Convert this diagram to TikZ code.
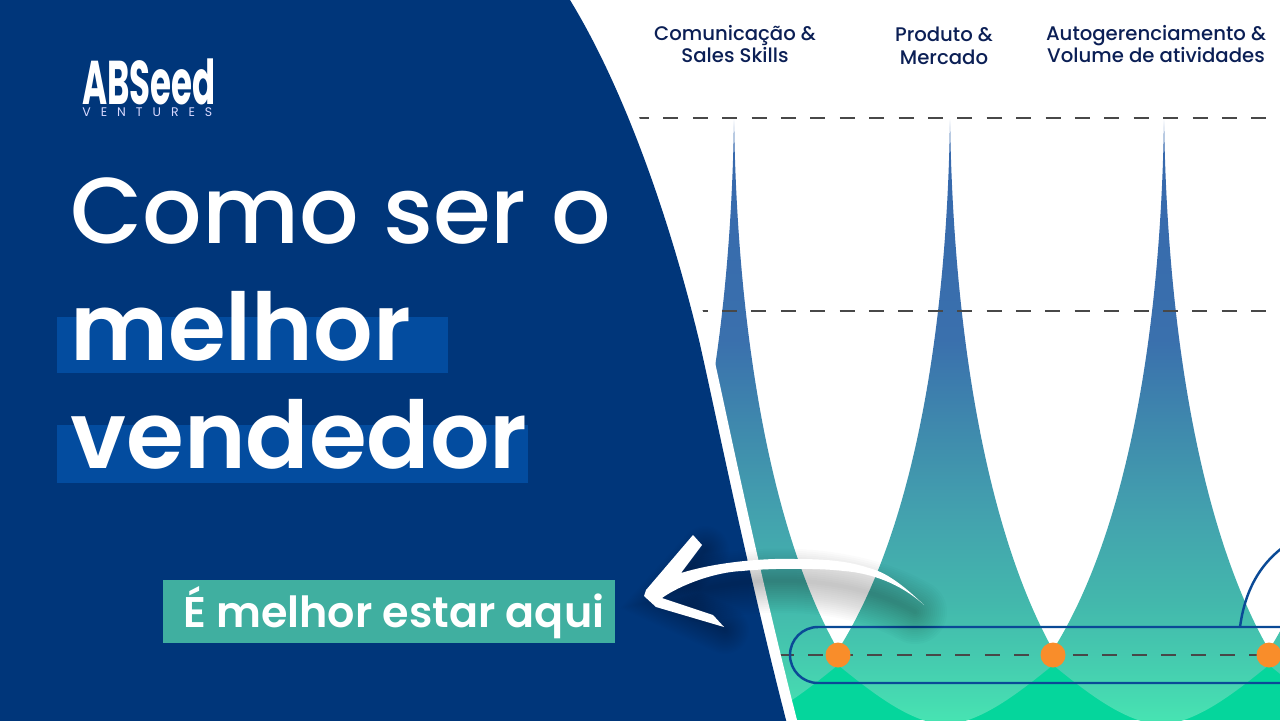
\documentclass[tikz,border=0pt]{standalone}
\usepackage{fontspec}
\usepackage{graphicx}
\setmainfont{Poppins}
\newfontfamily\popmedium{Poppins Medium}
\newfontfamily\popsemi{Poppins SemiBold}
\newfontfamily\popventures[LetterSpace=80]{Poppins}
\definecolor{painel}{HTML}{00367A}
\definecolor{faixa}{HTML}{034C9F}
\definecolor{etiqueta}{HTML}{40AFA0}
\definecolor{verdeb}{HTML}{05D69C}
\definecolor{laranja}{HTML}{F98D2A}
\definecolor{contorno}{HTML}{0A4A96}
\definecolor{rotulo}{HTML}{0B1F55}
\definecolor{traco}{HTML}{484848}
\definecolor{col0}{HTML}{FFFFFF}
\definecolor{col1}{HTML}{3668AD}
\definecolor{col2}{HTML}{3A70AD}
\definecolor{col3}{HTML}{3F8AAD}
\definecolor{col4}{HTML}{43A3AE}
\definecolor{col5}{HTML}{43B7AC}
\definecolor{col6}{HTML}{45CBAF}
\definecolor{col7}{HTML}{47E3B2}
\pgfdeclareverticalshading{coluna}{100bp}{color(0bp)=(col7); color(25.4bp)=(col7); color(30.4bp)=(col6); color(35.3bp)=(col5); color(41.9bp)=(col4); color(49.3bp)=(col3); color(56.7bp)=(col2); color(74.2bp)=(col1); color(75bp)=(col0); color(100bp)=(col0)}
\newcommand{\bordapainel}{(0,0) -- (570,0) .. controls (625,90) and (670,220) .. (699,340) .. controls (715,410) and (745,560) .. (786,720) -- (789,732) -- (0,732) -- cycle}
\tikzset{
	titulo/.style={anchor=base west, inner sep=0pt, white},
	rotulocol/.style={align=center, inner sep=0pt, text=rotulo, font=\popmedium\fontsize{11.2}{13}\selectfont},
	tracejado/.style={traco, line width=0.6pt, dash pattern=on 0.3cm off 0.288cm},
	ponto/.style={circle, fill=laranja, inner sep=0pt, minimum size=0.5cm}
}
\begin{document}
\begin{tikzpicture}[x=0.02cm, y=-0.02cm]
	\useasboundingbox (0,0) rectangle (1280,720);
	\clip (0,0) rectangle (1280,720);

	% fundo verde
	\fill [verdeb] (760,662) rectangle (1280,720);

	% colunas
	\foreach \pico/\esq/\dir in {734/630/838, 950/838/1053, 1164/1053/1269, 1380/1269/1484} {
		\shade [shading=coluna] (\esq,650) .. controls (\pico-36,530) and (\pico-3,330) .. (\pico,118)
			.. controls (\pico+3,330) and (\pico+36,530) .. (\dir,650) -- (\dir,665)
			.. controls (\dir-37,695) and (\dir-72,722) .. ({(\esq+\dir)/2},725)
			.. controls (\esq+72,722) and (\esq+37,695) .. (\esq,665) -- cycle;
	}

	% linhas tracejadas
	\draw [tracejado] (634,118) -- (1280,118);
	\draw [tracejado] (692.6,311) -- (1280,311);
	\draw [tracejado] (779,655) -- (1280,655);

	% painel azul
	\fill [white, shift={(11,0)}] \bordapainel;
	\fill [painel] \bordapainel;

	% pilula e pontos
	\draw [contorno, line width=1.4pt, rounded corners=0.56cm] (790,627) rectangle (1340,683);
	\draw [contorno, line width=1.4pt] (1240,627) .. controls (1245,590) and (1260,565) .. (1282,548);
	\node [ponto] (pontoa) at (838,655) {};
	\node [ponto] (pontob) at (1053,655) {};
	\node [ponto] (pontoc) at (1269,655) {};

	% rotulos
	\node [rotulocol] (comunicacao) at (735,44) {Comunicação \&\\Sales Skills};
	\node [rotulocol] (produto) at (944,46) {Produto \&\\Mercado};
	\node [rotulocol] (autogerenciamento) at (1156,44) {Autogerenciamento \&\\Volume de atividades};

	% logo
	\node [anchor=north west, inner sep=0pt, white] (logo) at (82,58) {\resizebox{76pt}{26pt}{\bfseries ABSeed}};
	\node [anchor=north west, inner sep=0pt, text=white!85!blue, font=\popventures\fontsize{7.1}{8}\selectfont] (ventures) at (82,107) {VENTURES};

	% faixas
	\fill [faixa] (57,317) rectangle (448,373);
	\fill [faixa] (57,425) rectangle (528,483);

	% titulo
	\node [titulo, font=\popmedium\fontsize{53.2}{62}\selectfont] (como) at (70,243) {Como ser o};
	\node [titulo, font=\popsemi\fontsize{53.2}{62}\selectfont] (melhor) at (70,360) {melhor};
	\node [titulo, font=\popsemi\fontsize{53.2}{62}\selectfont] (vendedor) at (70,468) {vendedor};

	% etiqueta
	\fill [etiqueta] (163,580) rectangle (615,643);
	\node [titulo, font=\popsemi\fontsize{24.4}{28}\selectfont] (aqui) at (183,627) {É melhor estar aqui};

	% sombra da seta
	\foreach \w in {4,8,...,64} {
		\draw [black, opacity=0.014, line width=\w*0.02cm, line cap=round] (700,590) .. controls (760,575) and (850,575) .. (915,612);
		\draw [black, opacity=0.011, line width=\w*0.015cm, line cap=round] (705,550) -- (660,600) -- (725,630);
	}

	% seta
	\fill [white] (924,605) .. controls (901,583) and (885,572) .. (869,568)
		.. controls (845,560) and (820,559) .. (795,559)
		.. controls (770,558) and (720,561) .. (681,573)
		-- (702,545) -- (693,535) -- (646,590) -- (644,596) -- (656,607) -- (724,627) -- (713,615) -- (662,598)
		.. controls (680,585) and (715,572) .. (742,571)
		.. controls (770,568) and (820,568) .. (844,571)
		.. controls (870,573) and (900,583) .. cycle;
\end{tikzpicture}
\end{document}
